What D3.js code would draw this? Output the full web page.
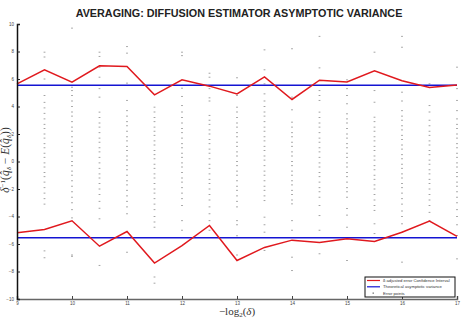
<!DOCTYPE html>
<html><head><meta charset="utf-8">
<script src="https://cdn.jsdelivr.net/npm/d3@7"></script>
<style>body{margin:0;background:#fff;} svg{display:block;}</style>
</head><body>
<svg id="c" width="461" height="320"></svg>
<script>
const title = "AVERAGING: DIFFUSION ESTIMATOR ASYMPTOTIC VARIANCE";
const xTicks = [9,10,11,12,13,14,15,16,17];
const yTicks = [-10,-8,-6,-4,-2,0,2,4,6,8,10];
const xs = [9,9.5,10,10.5,11,11.5,12,12.5,13,13.5,14,14.5,15,15.5,16,16.5,17];
const upperCI = [5.65,6.67,5.77,6.96,6.91,4.85,5.94,5.48,4.92,6.16,4.51,5.91,5.79,6.59,5.87,5.38,5.57];
const lowerCI = [-5.19,-4.95,-4.31,-6.16,-5.09,-7.39,-6.11,-4.65,-7.2,-6.25,-5.72,-5.89,-5.62,-5.82,-5.14,-4.34,-5.45];
const theoretical = 5.55;
const errorColumns = [9.5,10,10.5,11,11.5,12,12.5,13,13.5,14,14.5,15,15.5,16,16.5,17];
const errorValues = [
 [7.95,7.6,6.0,4.8,4.3,3.9,3.5,3.1,2.7,2.4,2.0,1.7,1.3,1.0,0.6,0.3,-0.1,-0.4,-0.8,-1.1,-1.5,-1.9,-2.3,-2.7,-3.1,-6.5,-7.0],
 [9.7,5.4,5.16,4.8,4.4,4.0,3.6,3.3,2.9,2.5,2.2,1.8,1.4,1.1,0.7,0.4,0.0,-0.3,-0.7,-1.0,-1.4,-1.8,-2.2,-2.6,-3.0,-3.5,-4.1,-6.8,-6.9],
 [7.95,7.64,6.86,6.13,5.3,4.68,3.59,3.2,2.8,2.5,2.1,1.7,1.4,1.0,0.7,0.3,-0.1,-0.5,-0.9,-1.2,-1.6,-2.0,-2.4,-2.9,-3.4,-4.17,-7.56],
 [8.36,7.88,5.7,4.44,3.7,3.3,2.9,2.6,2.2,1.8,1.5,1.1,0.8,0.4,0.1,-0.3,-0.6,-1.0,-1.4,-1.7,-2.1,-2.5,-2.9,-3.3,-3.8,-6.6],
 [3.95,3.6,3.2,2.9,2.5,2.2,1.9,1.5,1.2,0.8,0.5,0.2,-0.2,-0.5,-0.9,-1.2,-1.6,-2.0,-2.3,-2.7,-3.1,-3.5,-4.0,-4.4,-4.78,-8.4,-8.85],
 [7.95,7.7,5.33,4.73,4.07,3.6,3.2,2.8,2.4,2.1,1.7,1.3,1.0,0.6,0.3,-0.1,-0.4,-0.8,-1.2,-1.5,-1.9,-2.3,-2.7,-3.2,-4.3,-5.0],
 [6.42,6.13,5.3,4.63,4.4,3.35,3.0,2.7,2.3,2.0,1.6,1.3,0.9,0.6,0.2,-0.2,-0.5,-0.9,-1.3,-1.6,-2.0,-2.4,-2.8,-3.3,-3.8,-4.3,-5.0],
 [6.09,4.8,3.95,3.6,3.2,2.8,2.5,2.1,1.8,1.4,1.1,0.7,0.4,0.0,-0.3,-0.7,-1.0,-1.4,-1.8,-2.1,-2.5,-2.9,-3.3,-4.3,-4.6,-5.4,-6.8],
 [8.12,6.67,5.65,4.92,4.4,4.0,3.6,3.3,2.9,2.5,2.2,1.8,1.5,1.1,0.8,0.4,0.1,-0.3,-0.7,-1.0,-1.4,-1.8,-2.1,-2.5,-2.84,-4.05,-4.6,-5.14,-6.47],
 [8.2,4.68,3.76,2.86,2.5,2.1,1.8,1.4,1.1,0.7,0.4,0.0,-0.3,-0.7,-1.0,-1.4,-1.7,-2.1,-2.4,-2.8,-3.08,-4.3,-5.0,-6.96,-7.93],
 [9.1,6.81,5.16,4.8,4.44,3.59,3.2,2.8,2.5,2.1,1.7,1.4,1.0,0.7,0.3,-0.1,-0.4,-0.8,-1.1,-1.5,-1.9,-2.2,-2.6,-3.2,-3.93,-5.0,-6.71],
 [5.94,5.3,4.8,4.2,3.47,3.1,2.8,2.4,2.0,1.7,1.3,1.0,0.6,0.3,-0.1,-0.4,-0.8,-1.1,-1.5,-1.9,-2.2,-2.6,-3.42,-3.9,-4.78,-7.2],
 [7.95,5.16,4.31,3.22,2.9,2.5,2.2,1.8,1.5,1.1,0.8,0.4,0.1,-0.3,-0.6,-1.0,-1.3,-1.7,-2.0,-2.4,-2.8,-3.2,-3.56,-4.53,-5.24],
 [9.1,8.31,5.04,4.4,3.7,3.3,3.0,2.6,2.3,1.9,1.6,1.2,0.9,0.5,0.2,-0.2,-0.5,-0.9,-1.2,-1.6,-1.9,-2.3,-2.7,-3.1,-3.6,-4.0,-4.53,-5.14,-7.32],
 [5.65,4.07,3.6,3.0,2.6,2.2,1.9,1.5,1.2,0.8,0.5,0.1,-0.2,-0.6,-0.9,-1.3,-1.6,-2.0,-2.4,-2.8,-3.2,-3.7,-4.3],
 [6.86,5.3,4.44,3.7,3.1,2.7,2.4,2.0,1.7,1.3,1.0,0.6,0.3,-0.1,-0.4,-0.8,-1.1,-1.5,-1.8,-2.2,-2.6,-3.0,-3.5,-4.0,-4.6,-5.38,-7.08]
];
const legendLabels = ["\u03b4 adjusted error Confidence Interval","Theoretical asymptotic variance","Error points"];

const svg = d3.select("#c");
const x = d3.scaleLinear().domain([9,17]).range([17,457]);
const y = d3.scaleLinear().domain([-10,10]).range([299,24]);

svg.append("text").attr("x",239).attr("y",17).attr("text-anchor","middle")
  .attr("font-family","Liberation Sans, Arial, sans-serif").attr("font-weight","bold")
  .attr("font-size",10.8).attr("fill","#222").text(title);

const pts = [];
errorColumns.forEach((c,i)=>errorValues[i].forEach(v=>pts.push([c,v])));
svg.append("g").selectAll("rect").data(pts).join("rect")
  .attr("x",d=>x(d[0])-0.9).attr("y",d=>y(d[1])-0.5)
  .attr("width",1.8).attr("height",1).attr("fill","#666").attr("opacity",0.6);

svg.append("g").selectAll("line").data([theoretical,-theoretical]).join("line")
  .attr("x1",x(9)).attr("x2",x(17)).attr("y1",d=>y(d)).attr("y2",d=>y(d))
  .attr("stroke","#1414d2").attr("stroke-width",1.5);

const line = d3.line().x((d,i)=>x(xs[i])).y(d=>y(d));
[upperCI,lowerCI].forEach(arr=>{
  svg.append("path").attr("d",line(arr)).attr("fill","none")
    .attr("stroke","#e0191e").attr("stroke-width",1.5).attr("stroke-linejoin","miter");
});

const xAxis = d3.axisBottom(x).tickValues(xTicks).tickSize(-3).tickPadding(3).tickFormat(d3.format("d"));
const gx = svg.append("g").attr("transform",`translate(0,${y(-10)})`).call(xAxis);
gx.select(".domain").attr("stroke","#666").attr("stroke-width",1.5);
gx.selectAll(".tick line").attr("stroke","#444");
gx.selectAll("text").attr("font-size",4.5).attr("font-family","Liberation Sans, Arial, sans-serif").attr("fill","#444");

const yAxis = d3.axisLeft(y).tickValues(yTicks).tickSize(-3).tickPadding(3).tickFormat(d3.format("d"));
const gy = svg.append("g").attr("transform",`translate(${x(9)},0)`).call(yAxis);
gy.select(".domain").attr("stroke","#111").attr("stroke-width",1.5);
gy.selectAll(".tick line").attr("stroke","#222");
gy.selectAll("text").attr("font-size",4.5).attr("font-family","Liberation Sans, Arial, sans-serif").attr("fill","#444");

const xl = svg.append("text").attr("x",237).attr("y",315).attr("text-anchor","middle")
  .attr("font-family","Liberation Serif, Times New Roman, serif").attr("font-size",11).attr("fill","#333");
xl.append("tspan").text("\u2212log");
xl.append("tspan").attr("font-size",7).attr("dy",2).text("2");
xl.append("tspan").attr("dy",-2).text("(");
xl.append("tspan").attr("font-style","italic").text("\u03b4");
xl.append("tspan").text(")");

const yl = svg.append("text").attr("transform","translate(9,160) rotate(-90)").attr("text-anchor","middle")
  .attr("font-family","Liberation Serif, Times New Roman, serif").attr("font-size",11.5).attr("fill","#333");
yl.append("tspan").attr("font-style","italic").text("\u03b4");
yl.append("tspan").attr("font-size",7).attr("dy",-4).text("\u22121");
yl.append("tspan").attr("dy",4).text("(");
yl.append("tspan").attr("font-style","italic").text("q\u0302");
yl.append("tspan").attr("font-size",7).attr("dy",2).attr("font-style","italic").text("\u03b4");
yl.append("tspan").attr("dy",-2).text(" \u2212 ");
yl.append("tspan").attr("font-style","italic").text("E");
yl.append("tspan").text("(");
yl.append("tspan").attr("font-style","italic").text("q\u0302");
yl.append("tspan").attr("font-size",7).attr("dy",2).attr("font-style","italic").text("\u03b4");
yl.append("tspan").attr("dy",-2).text("))");

const lg = svg.append("g").attr("transform","translate(365,277)");
lg.append("rect").attr("width",90).attr("height",20).attr("fill","#fff").attr("stroke","#111").attr("stroke-width",1);
const lrows = [{c:"#e0191e",t:"line"},{c:"#1414d2",t:"line"},{c:"#555",t:"pt"}];
lrows.forEach((r,i)=>{
  const yy = 3.5 + i*6.3;
  if(r.t==="line"){
    lg.append("line").attr("x1",2).attr("x2",15).attr("y1",yy).attr("y2",yy).attr("stroke",r.c).attr("stroke-width",1.2);
  } else {
    lg.append("rect").attr("x",7.5).attr("y",yy-0.5).attr("width",1.5).attr("height",1).attr("fill",r.c);
  }
  lg.append("text").attr("x",18).attr("y",yy+1.5).attr("font-size",4.2)
    .attr("font-family","Liberation Sans, Arial, sans-serif").attr("fill","#333").text(legendLabels[i]);
});
</script>
</body></html>
